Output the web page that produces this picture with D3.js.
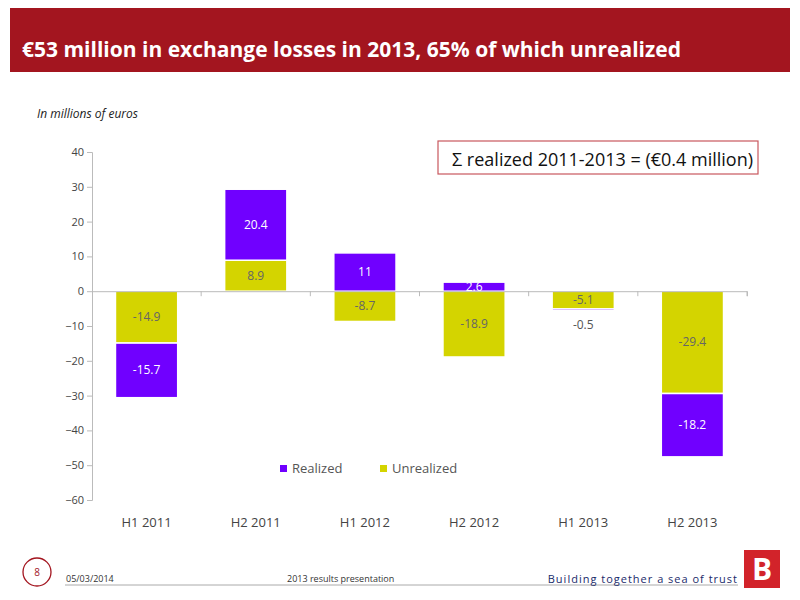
<!DOCTYPE html>
<html><head><meta charset="utf-8">
<script src="https://cdn.jsdelivr.net/npm/d3@7"></script>
<style>body{margin:0;background:#fff;font-family:"Open Sans",sans-serif}</style>
</head><body><svg id="c" width="800" height="600"></svg>
<script>
const categories = ["H1 2011","H2 2011","H1 2012","H2 2012","H1 2013","H2 2013"];
const realized = [-15.7, 20.4, 11, 2.6, -0.5, -18.2];
const unrealized = [-14.9, 8.9, -8.7, -18.9, -5.1, -29.4];
const yTicks = [40,30,20,10,0,-10,-20,-30,-40,-50,-60];
const colors = {Realized:"#7000ff", Unrealized:"#d4d400"};

const svg = d3.select("#c");
// header
svg.append("rect").attr("x",10).attr("y",8).attr("width",780).attr("height",64).attr("fill","#a3151f");
svg.append("text").attr("x",22).attr("y",57).attr("fill","#fff").attr("font-size",21).attr("font-weight","bold")
  .text("€53 million in exchange losses in 2013, 65% of which unrealized");
svg.append("text").attr("x",37).attr("y",118).attr("font-size",12).attr("font-style","italic").attr("fill","#222").text("In millions of euros");

const x = d3.scaleBand().domain(categories).range([92,747]).paddingInner(0.43).paddingOuter(0.215);
const y = d3.scaleLinear().domain([-60,40]).range([500,152]);

// axes
const ya = svg.append("g").attr("transform","translate(92,0)").call(d3.axisLeft(y).tickValues(yTicks).tickSize(5));
ya.select(".domain").attr("stroke","#bbb");
ya.selectAll("line").attr("stroke","#bbb");
ya.selectAll("text").attr("font-size",11).attr("fill","#444").attr("font-family","Open Sans");

// stacked bars
const rows = categories.map((c,i)=>({c, u:unrealized[i], r:realized[i]}));
rows.forEach(d=>{
  let u0=0,u1=d.u, r0, r1;
  if (Math.sign(d.r)===Math.sign(d.u)) {r0=d.u; r1=d.u+d.r;} else {r0=0; r1=d.r;}
  d.segs=[{k:"Unrealized",v:d.u,a:u0,b:u1},{k:"Realized",v:d.r,a:r0,b:r1}];
});
const g = svg.append("g");
rows.forEach(d=>{
  d.segs.forEach(s=>{
    g.append("rect").attr("x",x(d.c)).attr("width",x.bandwidth())
      .attr("y",y(Math.max(s.a,s.b))).attr("height",Math.abs(y(s.a)-y(s.b)))
      .attr("fill",colors[s.k]).attr("stroke","#fff").attr("stroke-width",1.5);
    const small = Math.abs(s.v)<1;
    const mid = small ? y(Math.min(s.a,s.b))+18 : (y(s.a)+y(s.b))/2+4;
    g.append("text").attr("x",x(d.c)+x.bandwidth()/2).attr("y",mid).attr("text-anchor","middle")
      .attr("font-size",12).attr("font-family","Open Sans")
      .attr("fill", small ? "#555" : s.k==="Realized" ? "#fff" : "#666").text(s.v);
  });
});

const xa = svg.append("g").attr("transform",`translate(0,${y(0)})`).call(d3.axisBottom(x).tickSize(5).tickFormat(""));
xa.selectAll("line").attr("stroke","#bbb").attr("transform",`translate(${x.step()/2},0)`);
xa.select(".domain").attr("stroke","#bbb");
svg.append("g").selectAll("text").data(categories).join("text")
  .attr("x",d=>x(d)+x.bandwidth()/2).attr("y",527).attr("text-anchor","middle")
  .attr("font-size",13).attr("fill","#444").text(d=>d);

// legend
[["Realized",280],["Unrealized",380]].forEach(([k,lx])=>{
  svg.append("rect").attr("x",lx).attr("y",465).attr("width",7).attr("height",7).attr("fill",colors[k]);
  svg.append("text").attr("x",lx+12).attr("y",473).attr("font-size",13).attr("fill","#555").text(k);
});

// sum box
svg.append("rect").attr("x",438).attr("y",141).attr("width",320).attr("height",33).attr("fill","#fff").attr("stroke","#c9585e").attr("stroke-width",1.2);
svg.append("text").attr("x",452).attr("y",166).attr("font-size",18).attr("fill","#111").text("Σ  realized 2011-2013 = (€0.4 million)");

// footer
svg.append("circle").attr("cx",37).attr("cy",572).attr("r",14).attr("fill","#fff").attr("stroke","#a3151f").attr("stroke-width",1.3);
svg.append("text").attr("x",37).attr("y",576).attr("text-anchor","middle").attr("font-size",10).attr("fill","#a3151f").text("8");
svg.append("line").attr("x1",65).attr("x2",738).attr("y1",585).attr("y2",585).attr("stroke","#aaa");
svg.append("text").attr("x",66).attr("y",582).attr("font-size",9).attr("fill","#333").text("05/03/2014");
svg.append("text").attr("x",287).attr("y",582).attr("font-size",9).attr("fill","#333").text("2013 results presentation");
svg.append("text").attr("x",738).attr("y",583).attr("text-anchor","end").attr("font-size",11).attr("letter-spacing",1).attr("fill","#1a2a6a").text("Building together a sea of trust");
svg.append("rect").attr("x",744).attr("y",550).attr("width",36).attr("height",38).attr("fill","#d2232a");
svg.append("text").attr("x",762).attr("y",580).attr("text-anchor","middle").attr("font-size",30).attr("font-weight","bold").attr("fill","#fff").text("B");
</script></body></html>
